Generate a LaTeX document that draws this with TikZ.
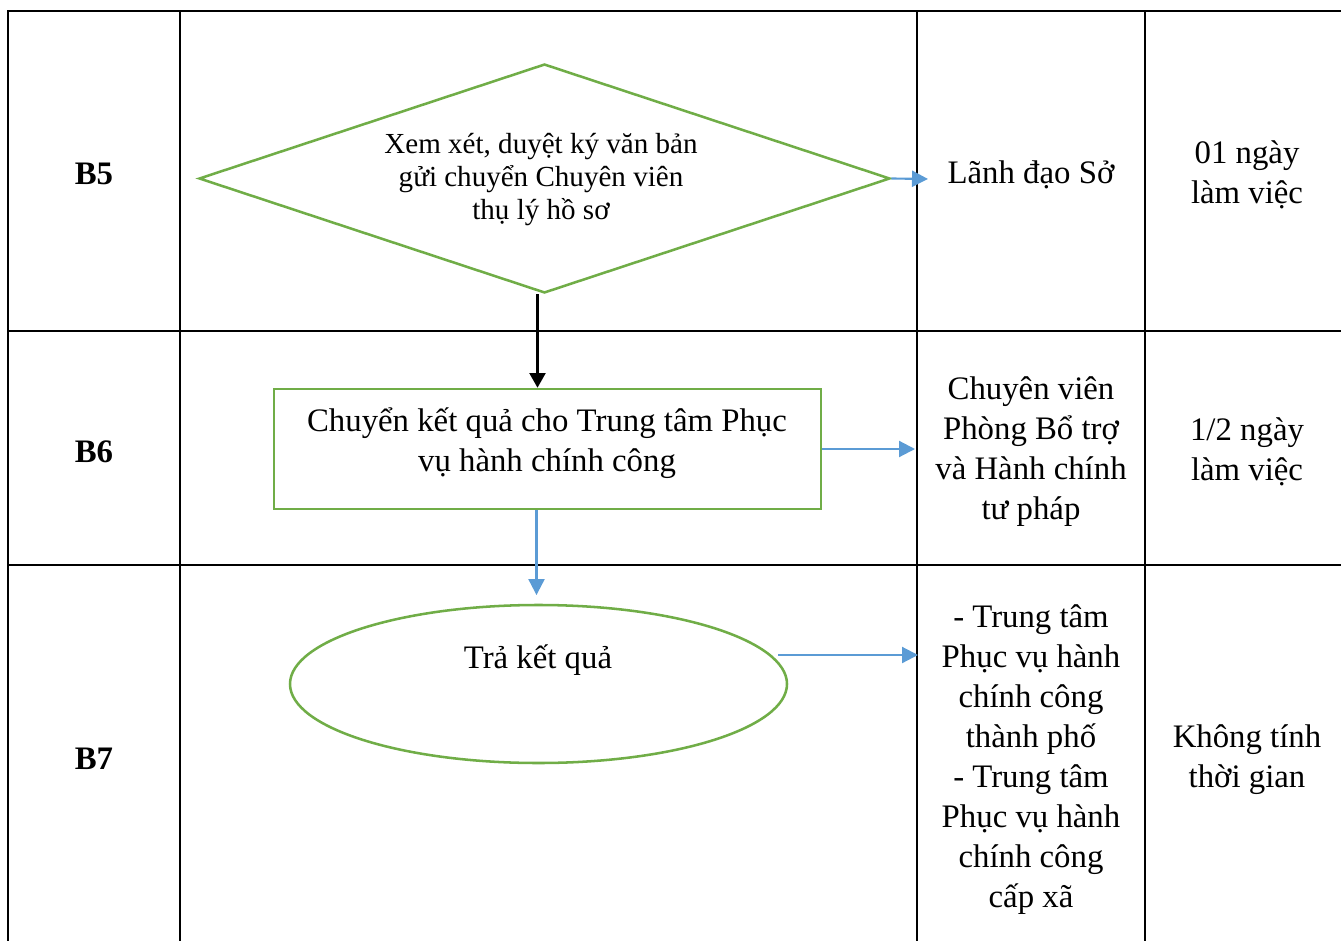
\documentclass[tikz,border=0pt]{standalone}
\usepackage{fontspec}
\setmainfont{Liberation Serif}
\usetikzlibrary{shapes.geometric,arrows.meta,calc}
\definecolor{flowgreen}{HTML}{70AD47}
\definecolor{flowblue}{HTML}{5B9BD5}
\tikzset{
  grid/.style={line width=1.9pt, black},
  big/.style={font={\fontsize{24.6}{30}\selectfont}, align=center, inner sep=0pt},
  small/.style={font={\fontsize{21.8}{24.75}\selectfont}, align=center, inner sep=0pt},
  shapeline/.style={draw=flowgreen, line width=1.9pt},
  bluearrow/.style={draw=flowblue, line width=1.6pt, -{Triangle[length=12pt,width=12pt]}},
  blackarrow/.style={draw=black, line width=1.6pt, -{Triangle[length=11pt,width=12pt]}}
}
\begin{document}
\begin{tikzpicture}[x=0.75pt,y=-0.75pt]
\useasboundingbox (0,0) rectangle (1341,941);
% table grid
\draw[grid] (8,941) -- (8,11) -- (1341,11);
\draw[grid] (8,331) -- (1341,331);
\draw[grid] (8,565) -- (1341,565);
\draw[grid] (180,11) -- (180,941);
\draw[grid] (917,11) -- (917,941);
\draw[grid] (1145,11) -- (1145,941);
% step labels
\node[big,font={\fontsize{24.6}{30}\selectfont\bfseries}] (b5) at (94,174) {B5};
\node[big,font={\fontsize{24.6}{30}\selectfont\bfseries}] (b6) at (94,452) {B6};
\node[big,font={\fontsize{24.6}{30}\selectfont\bfseries}] (b7) at (94,759) {B7};
% shapes
\node[shapeline, diamond, minimum width=518.25pt, minimum height=171.75pt, inner sep=0pt] (d) at (544.5,178.5) {};
\node[small] (dt) at (541,180) {Xem xét, duyệt ký văn bản\\gửi chuyển Chuyên viên\\thụ lý hồ sơ};
\node[shapeline, rectangle, minimum width=410.25pt, minimum height=90pt, inner sep=0pt] (r) at (547.5,449) {};
\node[big] (rt) at (547,443) {Chuyển kết quả cho Trung tâm Phục\\vụ hành chính công};
\node[shapeline, ellipse, minimum width=372.75pt, minimum height=118.5pt, inner sep=0pt] (e) at (538.5,684) {};
\node[big] (et) at (538,660) {Trả kết quả};
% right columns
\node[big] (c5) at (1031,175) {Lãnh đạo Sở};
\node[big] (t5) at (1247,175) {01 ngày\\làm việc};
\node[big] (c6) at (1031,452) {Chuyên viên\\Phòng Bổ trợ\\và Hành chính\\tư pháp};
\node[big] (t6) at (1247,452) {1/2 ngày\\làm việc};
\node[big] (c7) at (1031,760) {- Trung tâm\\Phục vụ hành\\chính công\\thành phố\\- Trung tâm\\Phục vụ hành\\chính công\\cấp xã};
\node[big] (t7) at (1247,760) {Không tính\\thời gian};
% arrow endpoints
\coordinate (a1) at (928,179);
\coordinate (a2) at (915,449);
\coordinate (a3s) at (778,655);
\coordinate (a3) at (918,655);
\coordinate (p1) at ($(d.south)+(-7,0)$);
\coordinate (p2) at ($(r.south)+(-11,0)$);
% connectors
\draw[bluearrow] (d.east) -- (a1);
\draw[blackarrow] (p1) -- (p1 |- r.north);
\draw[bluearrow] (r.east) -- (a2);
\draw[bluearrow] (p2) -- ([yshift=6.5pt]p2 |- e.north);
\draw[bluearrow] (a3s) -- (a3);
\end{tikzpicture}
\end{document}
